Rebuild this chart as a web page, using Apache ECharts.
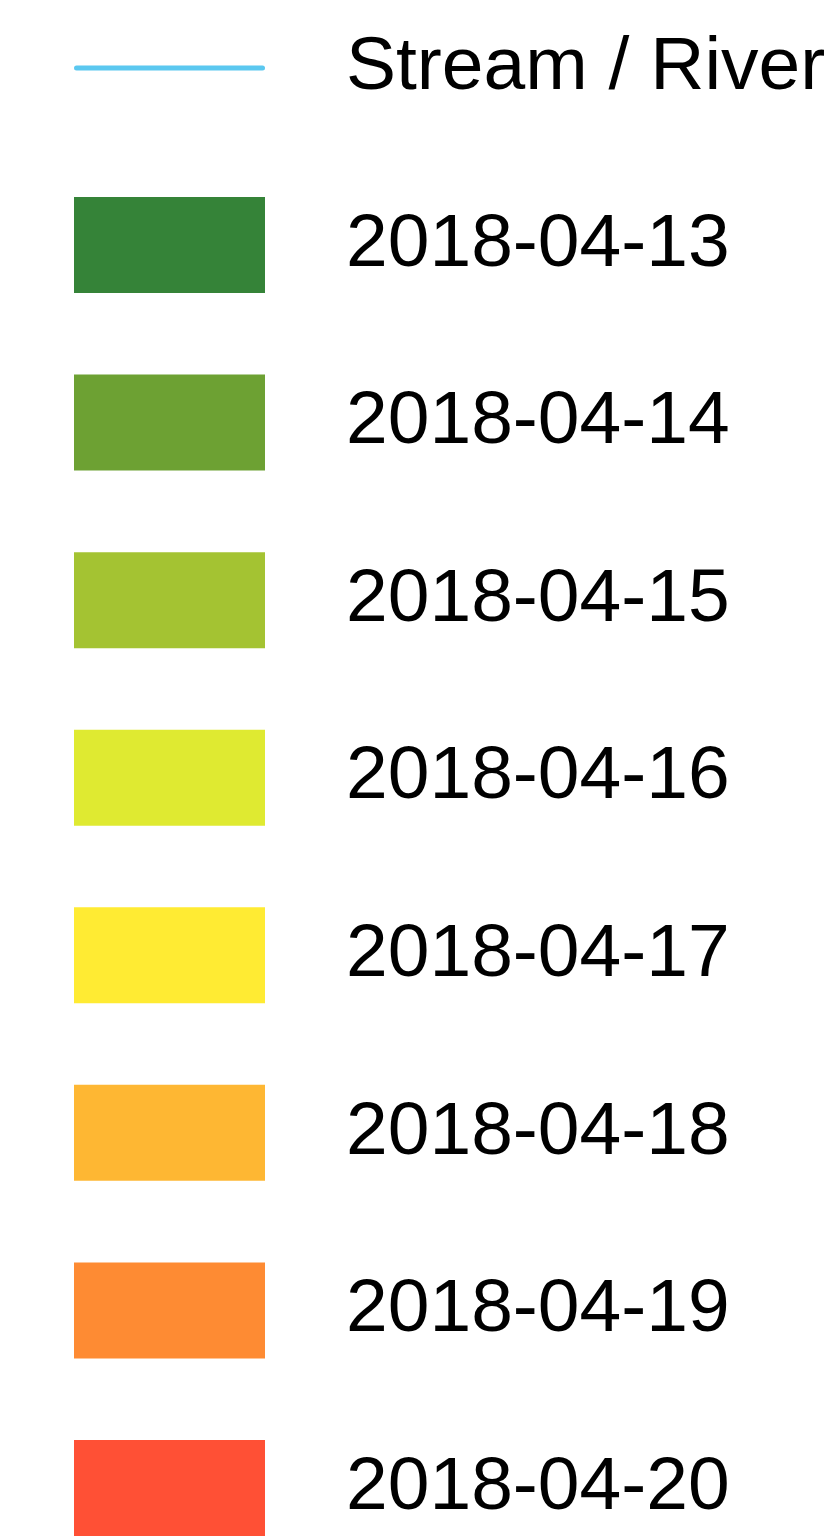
<!DOCTYPE html>
<html>
<head>
<meta charset="utf-8">
<script src="https://cdn.jsdelivr.net/npm/echarts@6/dist/echarts.min.js"></script>
<style>
  html, body { margin: 0; padding: 0; background: #fff; }
  #chart { width: 832px; height: 1536px; }
</style>
</head>
<body>
<div id="chart"></div>
<script>
// legend entries
const lineName = 'Stream / River'
const lineColor = '#5bc8f0'
const dates = [
  '2018-04-13', '2018-04-14', '2018-04-15', '2018-04-16',
  '2018-04-17', '2018-04-18', '2018-04-19', '2018-04-20'
]
const dateColors = [
  '#358338', '#6da133', '#a4c332', '#dfea31',
  '#ffeb33', '#feb733', '#fe8b33', '#ff5035'
]

const chart = echarts.init(document.getElementById('chart'), null, { renderer: 'canvas' })

const series = [
  {
    name: lineName,
    type: 'line',
    data: [],
    symbol: 'none',
    color: lineColor,
    lineStyle: { color: lineColor, width: 5, cap: 'round' }
  }
].concat(dates.map((d, i) => ({
  name: d,
  type: 'bar',
  data: [],
  color: dateColors[i],
  itemStyle: { color: dateColors[i] }
})))

const textStyle = {
  fontFamily: '"Liberation Sans", Arial, sans-serif',
  fontSize: 75,
  lineHeight: 52,
  color: '#000',
  padding: [38, 0, 0, 76]
}

// thin rounded bar used as the stream line icon
const lineIcon = 'path://M2.5,0 L188.5,0 A2.5,2.5 0 0 1 188.5,5 L2.5,5 A2.5,2.5 0 0 1 2.5,0 Z'

chart.setOption({
  animation: false,
  backgroundColor: '#fff',
  grid: { show: false, left: 0, right: 0, top: 0, bottom: 0 },
  xAxis: { type: 'category', show: false, data: [] },
  yAxis: { type: 'value', show: false },
  legend: [
    {
      orient: 'vertical',
      left: 74,
      top: 23,
      itemWidth: 191,
      itemHeight: 96,
      padding: 0,
      selectedMode: false,
      data: [{ name: lineName, icon: lineIcon, itemStyle: { color: lineColor } }],
      textStyle: textStyle
    },
    {
      orient: 'vertical',
      left: 74,
      top: 197,
      itemWidth: 191,
      itemHeight: 96,
      itemGap: 81.57,
      padding: 0,
      selectedMode: false,
      icon: 'rect',
      data: dates,
      textStyle: textStyle
    }
  ],
  series: series
})
</script>
</body>
</html>
